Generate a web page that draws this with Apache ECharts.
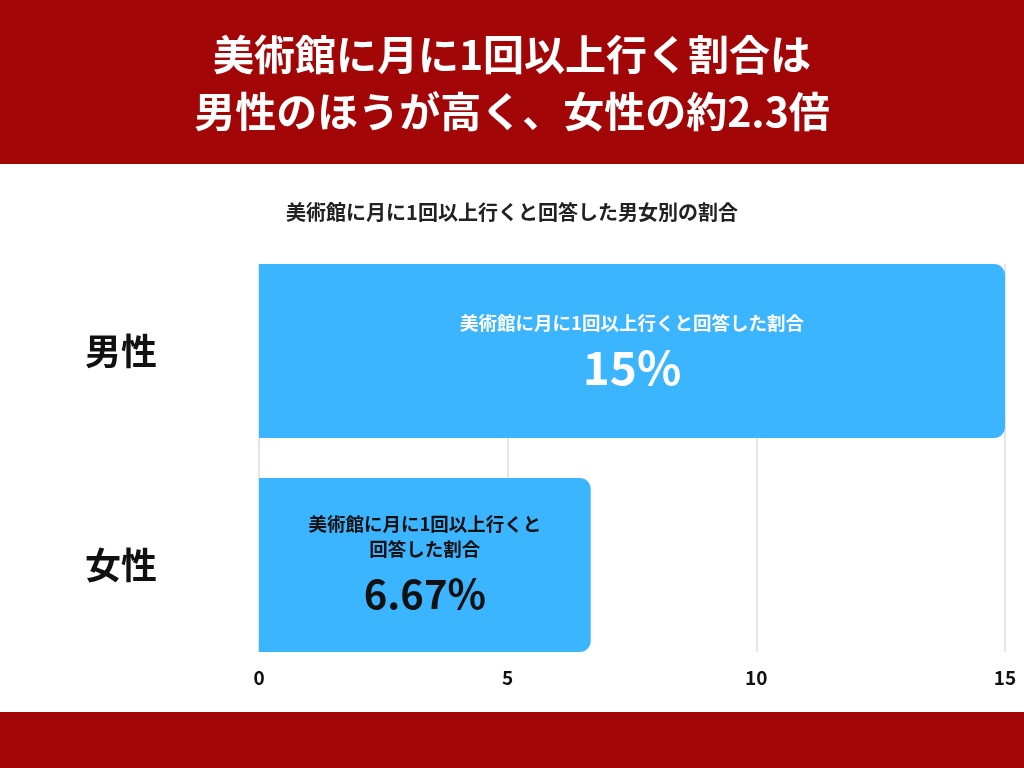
<!DOCTYPE html>
<html>
<head>
<meta charset="utf-8">
<script src="https://cdn.jsdelivr.net/npm/echarts@6/dist/echarts.min.js"></script>
<style>
  html, body { margin: 0; padding: 0; background: #fff; }
  #chart { width: 1024px; height: 768px; }
</style>
</head>
<body>
<div id="chart"></div>
<script>
// データ
var categories = ['男性', '女性'];
var values = [15, 6.67];
var valueTexts = ['15%', '6.67%'];
var captions = ['美術館に月に1回以上行くと回答した割合', '美術館に月に1回以上行くと\n回答した割合'];
var labelColors = ['#ffffff', '#111111'];
var valueSizes = [46, 40];
var xTicks = [0, 5, 10, 15];

var FONT = '"Noto Sans CJK JP", "Noto Sans", sans-serif';
var RED = '#a20606';

var chart = echarts.init(document.getElementById('chart'));

var barData = values.map(function (v, i) {
    return {
        value: v,
        label: {
            formatter: '{a|' + captions[i] + '}\n{b|' + valueTexts[i] + '}',
            rich: {
                a: { color: labelColors[i], fontSize: 18.5, fontWeight: 'bold', lineHeight: 25, fontFamily: FONT },
                b: { color: labelColors[i], fontSize: valueSizes[i], fontWeight: 'bold', lineHeight: 65, fontFamily: FONT }
            }
        }
    };
});

var option = {
    backgroundColor: '#fff',
    textStyle: { fontFamily: FONT },
    title: [{
        text: '美術館に月に1回以上行く割合は\n男性のほうが高く、女性の約2.3倍',
        left: 'center',
        top: 21,
        textStyle: { color: '#fff', fontSize: 41, fontWeight: 'bold', lineHeight: 57, fontFamily: FONT }
    }, {
        text: '美術館に月に1回以上行くと回答した男女別の割合',
        left: 'center',
        top: 197,
        textStyle: { color: '#222', fontSize: 20, fontWeight: 'bold', fontFamily: FONT }
    }],
    graphic: [
        { type: 'rect', z: -1, shape: { x: 0, y: 0, width: 1024, height: 164 }, style: { fill: RED } },
        { type: 'rect', z: -1, shape: { x: 0, y: 712, width: 1024, height: 56 }, style: { fill: RED } }
    ],
    // grid 0: 棒, grid 1: 目盛りとグリッド線
    grid: [
        { left: 259, right: 19, top: 244, bottom: 96 },
        { left: 259, right: 19, top: 264, bottom: 116 }
    ],
    xAxis: [{
        type: 'value',
        gridIndex: 0,
        min: xTicks[0],
        max: xTicks[xTicks.length - 1],
        interval: 5,
        show: false
    }, {
        type: 'value',
        gridIndex: 1,
        min: xTicks[0],
        max: xTicks[xTicks.length - 1],
        interval: 5,
        axisLine: { show: false },
        axisTick: { show: false },
        axisLabel: { color: '#111', fontSize: 19, fontWeight: 'bold', margin: 16, fontFamily: FONT },
        splitLine: { lineStyle: { color: '#dcdcdc', width: 1.5 } }
    }],
    yAxis: [{
        type: 'category',
        gridIndex: 0,
        data: categories,
        inverse: true,
        axisLine: { show: false },
        axisTick: { show: false },
        axisLabel: { color: '#111', fontSize: 36, fontWeight: 'bold', margin: 102, fontFamily: FONT }
    }, {
        type: 'category',
        gridIndex: 1,
        data: categories,
        inverse: true,
        show: false
    }],
    series: [{
        type: 'bar',
        xAxisIndex: 0,
        yAxisIndex: 0,
        z: 5,
        data: barData,
        barWidth: 174,
        itemStyle: { color: '#3bb5ff', borderRadius: [0, 11, 11, 0] },
        label: { show: true, position: 'inside', align: 'center', offset: [0, 4] }
    }, {
        type: 'bar',
        xAxisIndex: 1,
        yAxisIndex: 1,
        data: [],
        silent: true
    }]
};

chart.setOption(option);
</script>
</body>
</html>
